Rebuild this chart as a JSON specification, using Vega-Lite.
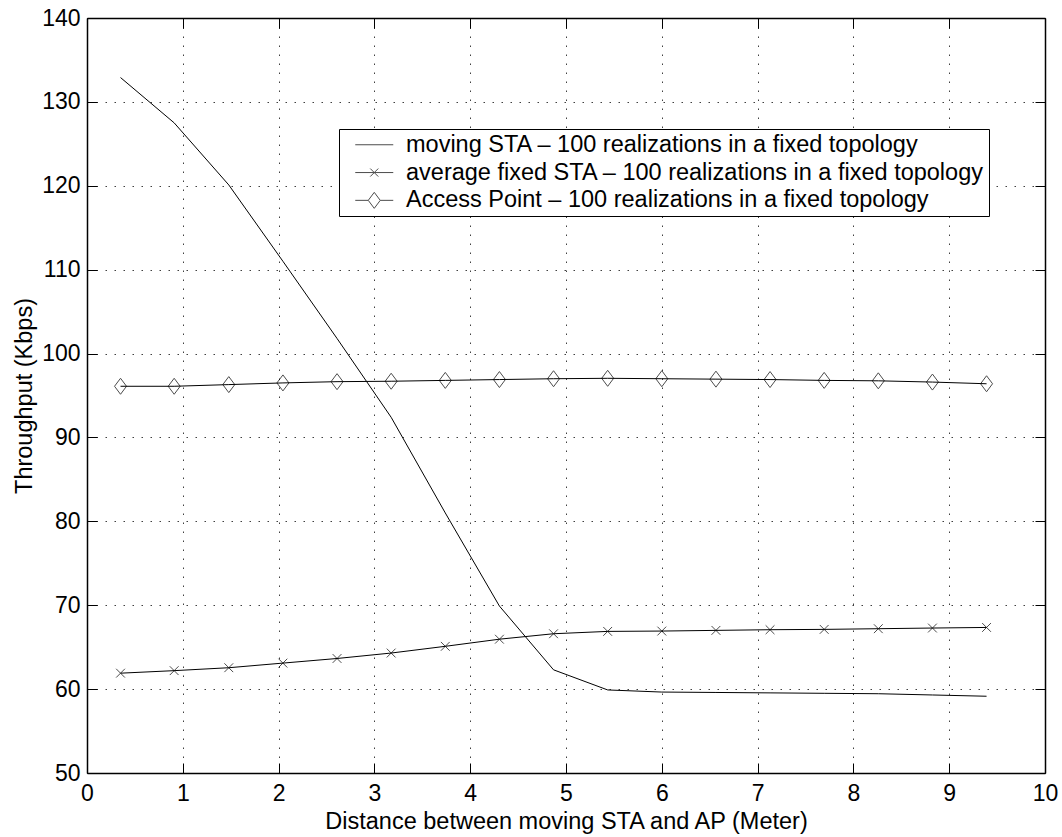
{
  "$schema": "https://vega.github.io/schema/vega-lite/v6.json",
  "width": 958,
  "height": 755,
  "autosize": {"type": "none"},
  "padding": {"left": 87, "top": 18, "right": 17, "bottom": 64},
  "background": "white",
  "config": {
    "font": "Liberation Sans",
    "view": {"stroke": null},
    "axis": {
      "labelFont": "Liberation Sans",
      "titleFont": "Liberation Sans",
      "labelFontSize": 23,
      "titleFontSize": 23.5,
      "labelColor": "black",
      "titleColor": "black",
      "titleFontWeight": "normal",
      "domainColor": "black",
      "domainWidth": 1.5,
      "tickColor": "black",
      "tickWidth": 1,
      "tickSize": -10,
      "gridColor": "black",
      "gridOpacity": 0.75,
      "gridDash": [1.5, 7.5],
      "gridWidth": 1
    },
    "legend": {
      "labelFont": "Liberation Sans",
      "labelFontSize": 23.5,
      "labelColor": "black"
    }
  },
  "data": {
    "values": [
      {"series": "moving STA – 100 realizations in a fixed topology", "x": 0.35, "y": 132.9},
      {"series": "moving STA – 100 realizations in a fixed topology", "x": 0.91, "y": 127.5},
      {"series": "moving STA – 100 realizations in a fixed topology", "x": 1.48, "y": 120.1},
      {"series": "moving STA – 100 realizations in a fixed topology", "x": 2.045, "y": 111.0},
      {"series": "moving STA – 100 realizations in a fixed topology", "x": 2.61, "y": 101.8},
      {"series": "moving STA – 100 realizations in a fixed topology", "x": 3.175, "y": 92.4},
      {"series": "moving STA – 100 realizations in a fixed topology", "x": 3.74, "y": 81.0},
      {"series": "moving STA – 100 realizations in a fixed topology", "x": 4.305, "y": 69.9},
      {"series": "moving STA – 100 realizations in a fixed topology", "x": 4.87, "y": 62.3},
      {"series": "moving STA – 100 realizations in a fixed topology", "x": 5.435, "y": 59.9},
      {"series": "moving STA – 100 realizations in a fixed topology", "x": 6.0, "y": 59.65},
      {"series": "moving STA – 100 realizations in a fixed topology", "x": 6.565, "y": 59.6},
      {"series": "moving STA – 100 realizations in a fixed topology", "x": 7.13, "y": 59.55},
      {"series": "moving STA – 100 realizations in a fixed topology", "x": 7.695, "y": 59.5},
      {"series": "moving STA – 100 realizations in a fixed topology", "x": 8.26, "y": 59.45},
      {"series": "moving STA – 100 realizations in a fixed topology", "x": 8.825, "y": 59.3},
      {"series": "moving STA – 100 realizations in a fixed topology", "x": 9.39, "y": 59.15},
      {"series": "average fixed STA – 100 realizations in a fixed topology", "x": 0.35, "y": 61.9},
      {"series": "average fixed STA – 100 realizations in a fixed topology", "x": 0.91, "y": 62.2},
      {"series": "average fixed STA – 100 realizations in a fixed topology", "x": 1.48, "y": 62.55},
      {"series": "average fixed STA – 100 realizations in a fixed topology", "x": 2.045, "y": 63.1},
      {"series": "average fixed STA – 100 realizations in a fixed topology", "x": 2.61, "y": 63.65},
      {"series": "average fixed STA – 100 realizations in a fixed topology", "x": 3.175, "y": 64.3},
      {"series": "average fixed STA – 100 realizations in a fixed topology", "x": 3.74, "y": 65.1},
      {"series": "average fixed STA – 100 realizations in a fixed topology", "x": 4.305, "y": 65.95},
      {"series": "average fixed STA – 100 realizations in a fixed topology", "x": 4.87, "y": 66.6},
      {"series": "average fixed STA – 100 realizations in a fixed topology", "x": 5.435, "y": 66.88},
      {"series": "average fixed STA – 100 realizations in a fixed topology", "x": 6.0, "y": 66.92},
      {"series": "average fixed STA – 100 realizations in a fixed topology", "x": 6.565, "y": 67.0},
      {"series": "average fixed STA – 100 realizations in a fixed topology", "x": 7.13, "y": 67.08},
      {"series": "average fixed STA – 100 realizations in a fixed topology", "x": 7.695, "y": 67.12},
      {"series": "average fixed STA – 100 realizations in a fixed topology", "x": 8.26, "y": 67.2},
      {"series": "average fixed STA – 100 realizations in a fixed topology", "x": 8.825, "y": 67.28},
      {"series": "average fixed STA – 100 realizations in a fixed topology", "x": 9.39, "y": 67.35},
      {"series": "Access Point – 100 realizations in a fixed topology", "x": 0.35, "y": 96.1},
      {"series": "Access Point – 100 realizations in a fixed topology", "x": 0.91, "y": 96.1},
      {"series": "Access Point – 100 realizations in a fixed topology", "x": 1.48, "y": 96.3},
      {"series": "Access Point – 100 realizations in a fixed topology", "x": 2.045, "y": 96.5},
      {"series": "Access Point – 100 realizations in a fixed topology", "x": 2.61, "y": 96.65},
      {"series": "Access Point – 100 realizations in a fixed topology", "x": 3.175, "y": 96.7},
      {"series": "Access Point – 100 realizations in a fixed topology", "x": 3.74, "y": 96.8},
      {"series": "Access Point – 100 realizations in a fixed topology", "x": 4.305, "y": 96.9},
      {"series": "Access Point – 100 realizations in a fixed topology", "x": 4.87, "y": 97.0},
      {"series": "Access Point – 100 realizations in a fixed topology", "x": 5.435, "y": 97.05},
      {"series": "Access Point – 100 realizations in a fixed topology", "x": 6.0, "y": 97.0},
      {"series": "Access Point – 100 realizations in a fixed topology", "x": 6.565, "y": 96.95},
      {"series": "Access Point – 100 realizations in a fixed topology", "x": 7.13, "y": 96.9},
      {"series": "Access Point – 100 realizations in a fixed topology", "x": 7.695, "y": 96.8},
      {"series": "Access Point – 100 realizations in a fixed topology", "x": 8.26, "y": 96.75},
      {"series": "Access Point – 100 realizations in a fixed topology", "x": 8.825, "y": 96.6},
      {"series": "Access Point – 100 realizations in a fixed topology", "x": 9.39, "y": 96.4}
    ]
  },
  "layer": [
    {
      "mark": {"type": "line", "color": "black", "strokeWidth": 1},
      "encoding": {
        "x": {
          "field": "x", "type": "quantitative",
          "scale": {"domain": [0, 10], "nice": false, "zero": false},
          "axis": {
            "orient": "bottom",
            "values": [0, 1, 2, 3, 4, 5, 6, 7, 8, 9, 10],
            "title": "Distance between moving STA and AP (Meter)",
            "labelPadding": 19,
            "labelFlush": false,
            "titleX": 479,
            "titleY": 55,
            "titleAlign": "center",
            "titleBaseline": "alphabetic",
            "grid": true
          }
        },
        "y": {
          "field": "y", "type": "quantitative",
          "scale": {"domain": [50, 140], "nice": false, "zero": false},
          "axis": {
            "orient": "left",
            "values": [50, 60, 70, 80, 90, 100, 110, 120, 130, 140],
            "title": "Throughput (Kbps)",
            "labelPadding": 17,
            "titleX": -56,
            "titleY": 377.5,
            "titleAlign": "center",
            "titleBaseline": "alphabetic",
            "titleAngle": 270,
            "grid": true
          }
        },
        "detail": {"field": "series"}
      }
    },
    {
      "transform": [{"filter": "datum.series !== 'moving STA – 100 realizations in a fixed topology'"}],
      "mark": {"type": "point", "filled": false, "stroke": "black", "strokeWidth": 1, "size": 256},
      "encoding": {
        "x": {
          "field": "x", "type": "quantitative",
          "axis": {"orient": "top", "values": [0, 1, 2, 3, 4, 5, 6, 7, 8, 9, 10], "labels": false, "title": null, "grid": false}
        },
        "y": {
          "field": "y", "type": "quantitative",
          "axis": {"orient": "right", "values": [50, 60, 70, 80, 90, 100, 110, 120, 130, 140], "labels": false, "title": null, "grid": false}
        },
        "shape": {
          "field": "series", "type": "nominal",
          "scale": {
            "domain": [
              "moving STA – 100 realizations in a fixed topology",
              "average fixed STA – 100 realizations in a fixed topology",
              "Access Point – 100 realizations in a fixed topology"
            ],
            "range": [
              "M0,0",
              "M-0.55,-0.55L0.55,0.55M-0.55,0.55L0.55,-0.55",
              "M0,-1L0.75,0L0,1L-0.75,0Z"
            ]
          },
          "legend": null
        }
      }
    },
    {
      "transform": [{"filter": "false"}],
      "mark": {"type": "point", "filled": false, "stroke": "black", "strokeWidth": 1},
      "encoding": {
        "x": {"field": "x", "type": "quantitative", "axis": null},
        "y": {"field": "y", "type": "quantitative", "axis": null},
        "shape": {
          "field": "series", "type": "nominal",
          "scale": {
            "domain": [
              "moving STA – 100 realizations in a fixed topology",
              "average fixed STA – 100 realizations in a fixed topology",
              "Access Point – 100 realizations in a fixed topology"
            ],
            "range": [
              "M-3.8,0H3.8",
              "M-3.8,0H3.8M-0.8,-0.8L0.8,0.8M-0.8,0.8L0.8,-0.8",
              "M-3.8,0H-1.2M1.2,0H3.8M0,-1.6L1.2,0L0,1.6L-1.2,0Z"
            ]
          },
          "legend": {
            "title": null,
            "orient": "none",
            "legendX": 252,
            "legendY": 111,
            "padding": 4,
            "fillColor": "white",
            "strokeColor": "black",
            "labelLimit": 0,
            "labelOffset": 20,
            "symbolOffset": 19.5,
            "rowPadding": 2.8,
            "symbolStrokeColor": "black",
            "symbolStrokeWidth": 1,
            "symbolFillColor": "transparent"
          }
        }
      }
    }
  ],
  "resolve": {
    "axis": {"x": "independent", "y": "independent"},
    "scale": {"shape": "independent"}
  }
}
